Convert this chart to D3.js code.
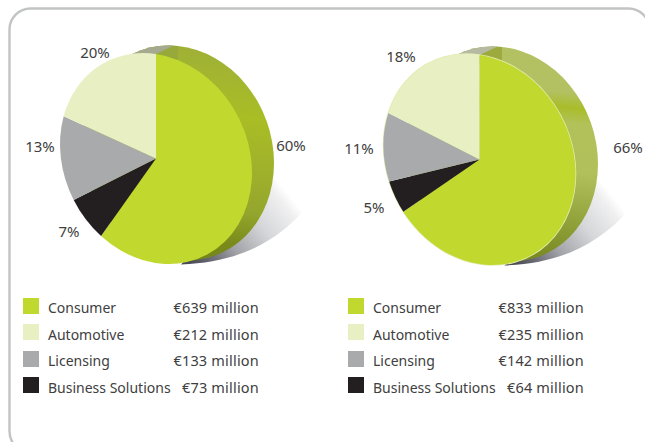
<!DOCTYPE html>
<html>
<head>
<meta charset="utf-8">
<script src="https://cdn.jsdelivr.net/npm/d3@7"></script>
<style>
html, body { margin: 0; padding: 0; background: #fff; }
svg { display: block; }
text { font-family: "Noto Sans", sans-serif; font-size: 14px; fill: #404040; }
text.pct { font-size: 15px; }
text.money { font-size: 14.5px; letter-spacing: 0.2px; }
</style>
</head>
<body>
<svg></svg>
<script>
// data
const categories = ["Consumer", "Automotive", "Licensing", "Business Solutions"];
const colors = ["#c1d82f", "#e8f0c3", "#a9aaac", "#231f20"];

const leftValues = [639, 212, 133, 73];
const leftPct = ["60%", "20%", "13%", "7%"];
// slice sizes as drawn, they are a bit off from the printed numbers
const leftSlices = [59.7, 20.6, 13, 6.7];

const rightValues = [833, 235, 142, 64];
const rightPct = ["66%", "18%", "11%", "5%"];
const rightSlices = [64.6, 19.9, 10.6, 4.9];

const shadowStops = [[0, "#4a4b55"], [0.18, "#70717a"], [0.35, "#a0a2a7"], [0.65, "#d5d6d9"], [0.92, "#f0f0f1"], [1, "#ffffff"]];

const svg = d3.select("svg")
    .attr("width", 645)
    .attr("height", 442);

const defs = svg.append("defs");

// panel frame runs off the right and bottom of the window
svg.append("rect")
    .attr("x", 9.5)
    .attr("y", 8.5)
    .attr("width", 640)
    .attr("height", 444)
    .attr("rx", 21)
    .attr("fill", "none")
    .attr("stroke", "#c2c3c4")
    .attr("stroke-width", 2.4);

const pieLayout = d3.pie().sort(null).value(d => d.value);
const unitArc = d3.arc().innerRadius(0).outerRadius(100);
const fullDisc = unitArc({ startAngle: 0, endAngle: 2 * Math.PI });

const legendY = d3.scalePoint().domain(categories).range([298, 377]);
const legendBase = d3.scalePoint().domain(categories).range([313, 393]);

function drawPie(cfg) {
    const { cx, cy, id } = cfg;
    const g = svg.append("g");

    // shadow on the floor, lower right
    const shadow = defs.append("linearGradient")
        .attr("id", id + "-shadow")
        .attr("gradientUnits", "userSpaceOnUse")
        .attr("x1", cx + 35).attr("y1", cy + 104)
        .attr("x2", cx + 128).attr("y2", cy + 30);
    shadowStops.forEach(s => shadow.append("stop").attr("offset", s[0]).attr("stop-color", s[1]));

    g.append("path")
        .attr("d", `M${cx + 112},${cy + 8} C${cx + 124},${cy + 20} ${cx + 135},${cy + 38} ${cx + 147},${cy + 53}
            C${cx + 118},${cy + 85} ${cx + 80},${cy + 104} ${cx + 25},${cy + 106} Z`)
        .attr("fill", `url(#${id}-shadow)`);

    // rim: same disc pushed up and to the right, a little taller
    const rimX = cx + cfg.dx, rimY = cy + cfg.dy;
    // gradient runs in the disc's own space, -100 to 100
    const grad = defs.append("linearGradient")
        .attr("id", id + "-rim")
        .attr("gradientUnits", "userSpaceOnUse")
        .attr("x1", 0).attr("x2", 0)
        .attr("y1", -100).attr("y2", 100);
    cfg.rimStops.forEach(s => grad.append("stop").attr("offset", s[0]).attr("stop-color", s[1]));

    const rimTransform = `matrix(0.96,0.1,0,1.07,${rimX},${rimY})`;

    defs.append("clipPath").attr("id", id + "-clip")
        .append("path").attr("d", fullDisc).attr("transform", rimTransform);

    g.append("path")
        .attr("d", fullDisc)
        .attr("transform", rimTransform)
        .attr("fill", `url(#${id}-rim)`);

    const back = g.append("g").attr("clip-path", `url(#${id}-clip)`);
    back.append("rect")
        .attr("x", rimX - 60).attr("y", cy - 125)
        .attr("width", 60).attr("height", 30)
        .attr("fill", cfg.wedge);
    back.append("path")
        .attr("d", `M${cx},${cy - 104.5} L${rimX},${cy - 115} L${cx - 60},${cy - 125} L${cx - 60},${cy - 104.5} Z`)
        .attr("fill", cfg.grey);

    // face: the disc in the picture leans, so it is sheared rather than scaled
    const face = g.append("g")
        .attr("transform", `matrix(0.96,0.143,0,1.045,${cx},${cy})`);
    if (cfg.edge) {
        face.append("path")
            .attr("d", fullDisc)
            .attr("fill", "none")
            .attr("stroke", cfg.edge)
            .attr("stroke-width", 1.6);
    }
    const rows = categories.map((c, i) => ({ name: c, value: cfg.slices[i], color: colors[i] }));
    // clockwise from 12 o'clock: consumer, business, licensing, automotive
    const order = [0, 3, 2, 1].map(i => rows[i]);
    face.selectAll("path.slice")
        .data(pieLayout(order))
        .join("path")
        .attr("class", "slice")
        .attr("d", unitArc)
        .attr("fill", d => d.data.color);

    // percent labels
    g.selectAll("text")
        .data(cfg.pct)
        .join("text")
        .attr("class", "pct")
        .attr("x", (d, i) => cfg.labelPos[i][0])
        .attr("y", (d, i) => cfg.labelPos[i][1])
        .attr("text-anchor", "middle")
        .attr("dominant-baseline", "central")
        .text(d => d);

    // legend
    const legend = svg.append("g");
    legend.selectAll("rect")
        .data(categories)
        .join("rect")
        .attr("x", cfg.legendX)
        .attr("y", d => Math.round(legendY(d)))
        .attr("width", 16)
        .attr("height", 16)
        .attr("fill", (d, i) => colors[i]);
    legend.selectAll("text.name")
        .data(categories)
        .join("text")
        .attr("class", "name")
        .attr("x", cfg.legendX + 25)
        .attr("y", d => legendBase(d))
        .text(d => d);
    legend.selectAll("text.money")
        .data(cfg.values)
        .join("text")
        .attr("class", "money")
        .attr("x", cfg.legendX + 236)
        .attr("y", (d, i) => legendBase(categories[i]))
        .attr("text-anchor", "end")
        .text(d => `€${d} million`);
}

drawPie({
    id: "left", cx: 156, cy: 158.5, dx: 22, dy: -5.5,
    slices: leftSlices, values: leftValues, pct: leftPct, legendX: 23,
    rimStops: [[0, "#9fb036"], [0.3, "#a9bd25"], [0.6, "#9dae2c"], [0.75, "#93a52c"], [0.9, "#7a8a1a"], [1, "#74841a"]],
    wedge: "#98a93c", grey: "#a4a98f",
    labelPos: [[291, 145], [95, 52], [40, 146], [69, 231]]
});

drawPie({
    id: "right", cx: 479.5, cy: 159.5, dx: 22.5, dy: -5.5,
    slices: rightSlices, values: rightValues, pct: rightPct, legendX: 348,
    rimStops: [[0, "#b3c162"], [0.18, "#b3c162"], [0.25, "#a9bd2a"], [0.32, "#b2c158"], [0.55, "#b2c05c"], [0.75, "#95a63f"], [1, "#76851c"]],
    wedge: "#9dab3e", grey: "#b6baa2", edge: "#e4ecb4",
    labelPos: [[628, 147], [401, 56], [359, 148], [374, 207]]
});
</script>
</body>
</html>
